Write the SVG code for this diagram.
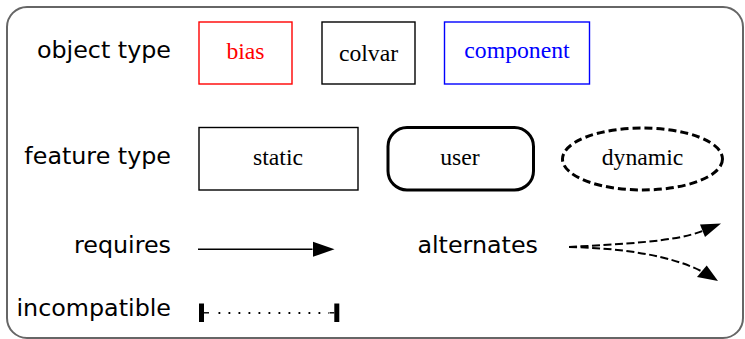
<svg xmlns="http://www.w3.org/2000/svg" width="745" height="339" viewBox="0 0 745 339">
  <style>
    .lbl { font-family: "DejaVu Sans", sans-serif; font-size: 23.8px; fill: #000; text-anchor: end; }
    .nt { font-family: "Liberation Serif", "Times New Roman", serif; font-size: 23.7px; text-anchor: middle; }
    .box { fill: #fff; stroke-width: 1.4; }
    .edge { fill: none; stroke: #000; }
  </style>
  <defs>
    <marker id="arrow" markerUnits="userSpaceOnUse" markerWidth="22" markerHeight="16" refX="0" refY="7" orient="auto" viewBox="0 0 20 14">
      <path d="M0,0 L20,7 L0,14 Z" fill="#000"/>
    </marker>
  </defs>

  <!-- legend frame -->
  <rect x="7" y="7" width="736" height="331" rx="20" ry="20" fill="#fff" stroke="#666" stroke-width="2"/>

  <!-- row labels -->
  <g id="labels">
    <text class="lbl" x="171" y="58">object type</text>
    <text class="lbl" x="171" y="164">feature type</text>
    <text class="lbl" x="171" y="253">requires</text>
    <text class="lbl" x="538" y="253">alternates</text>
    <text class="lbl" x="171" y="316">incompatible</text>
  </g>

  <!-- object types -->
  <g id="bias">
    <rect class="box" x="199" y="22" width="93" height="62" stroke="#f00"/>
    <text class="nt" x="245.5" y="58.5" fill="#f00">bias</text>
  </g>
  <g id="colvar">
    <rect class="box" x="322" y="22" width="93" height="62" stroke="#000"/>
    <text class="nt" x="368.5" y="61" fill="#000">colvar</text>
  </g>
  <g id="component">
    <rect class="box" x="444.5" y="22" width="145" height="62" stroke="#00f"/>
    <text class="nt" x="517" y="57.5" fill="#00f">component</text>
  </g>

  <!-- feature types -->
  <g id="static">
    <rect class="box" x="199" y="127.5" width="159" height="62.5" stroke="#000"/>
    <text class="nt" x="278" y="164.5" fill="#000">static</text>
  </g>
  <g id="user">
    <rect x="388" y="127.5" width="145.5" height="62.5" rx="19" ry="19" fill="#fff" stroke="#000" stroke-width="3"/>
    <text class="nt" x="460" y="164.5" fill="#000">user</text>
  </g>
  <g id="dynamic">
    <ellipse cx="642.5" cy="159" rx="80" ry="31" fill="#fff" stroke="#000" stroke-width="3" stroke-dasharray="8,4"/>
    <text class="nt" x="642.5" y="164.5" fill="#000">dynamic</text>
  </g>

  <!-- connectors -->
  <g id="connectors">
    <!-- requires -->
    <line class="edge" x1="198" y1="249.3" x2="312.5" y2="249.3" stroke-width="1.4" marker-end="url(#arrow)"/>
    <!-- alternates -->
    <path class="edge" d="M569,247 C620,244 675,242 702.5,231" stroke-width="2" stroke-dasharray="8,3.5"/>
    <path d="M700,224.6 L721,223.5 L705,237 Z" fill="#000"/>
    <path class="edge" d="M569,247 C620,248 670,255 702,271.5" stroke-width="2" stroke-dasharray="8,3.5"/>
    <path d="M706.7,265.5 L718,281 L697,277 Z" fill="#000"/>
    <!-- incompatible -->
    <rect x="199" y="303.5" width="5" height="18.5" fill="#000"/>
    <rect x="334.3" y="303.5" width="5" height="18.5" fill="#000"/>
    <line class="edge" x1="204" y1="312.8" x2="209" y2="312.8" stroke-width="1.4"/>
    <line class="edge" x1="329.5" y1="312.8" x2="334.3" y2="312.8" stroke-width="1.4"/>
    <line class="edge" x1="218.5" y1="313" x2="329" y2="313" stroke-width="1.8" stroke-dasharray="1.8,8.2"/>
  </g>
</svg>
